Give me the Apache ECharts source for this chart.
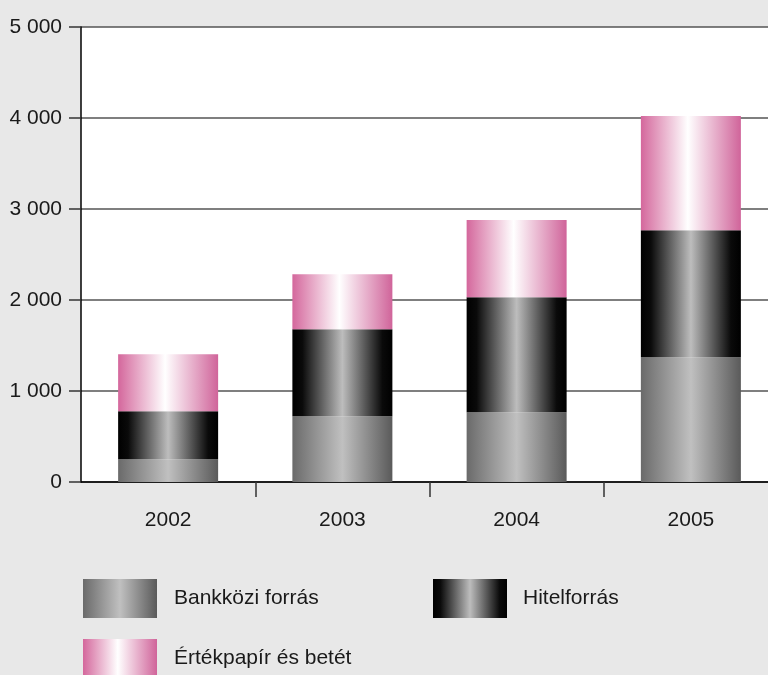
<!DOCTYPE html>
<html>
<head>
<meta charset="utf-8">
<script src="https://cdn.jsdelivr.net/npm/echarts@6/dist/echarts.min.js"></script>
<style>
  html, body { margin: 0; padding: 0; background: #e8e8e8; }
  #chart { width: 768px; height: 675px; }
</style>
</head>
<body>
<div id="chart"></div>
<script>
// Years on the category axis
const years = ['2002', '2003', '2004', '2005'];

// Stacked funding components (values per year)
const bankkozi = [250, 722, 766, 1371];
const hitel = [527, 957, 1265, 1396];
const ertekpapir = [627, 605, 847, 1255];

// Value axis range and step
const yMin = 0;
const yMax = 5000;
const yStep = 1000;

const seriesNames = ['Bankközi forrás', 'Hitelforrás', 'Értékpapír és betét'];

function hGrad(stops) {
  return new echarts.graphic.LinearGradient(0, 0, 1, 0,
    stops.map(s => ({ offset: s[0], color: s[1] })));
}

const grayFill = hGrad([[0, '#6a6a6a'], [0.5, '#c0c0c0'], [1, '#5a5a5a']]);
const blackFill = hGrad([[0, '#000000'], [0.1, '#0a0a0a'], [0.5, '#bdbdbd'], [0.9, '#0a0a0a'], [1, '#000000']]);
const pinkFill = hGrad([[0, '#d4679c'], [0.47, '#ffffff'], [1, '#d0649a']]);

const fmt = v => String(v).replace(/\B(?=(\d{3})+(?!\d))/g, ' ');

const chart = echarts.init(document.getElementById('chart'), null, { renderer: 'canvas' });

function legendText(gap) {
  return { fontFamily: 'Liberation Sans', fontSize: 21, color: '#1a1a1a', padding: [0, 0, 0, gap] };
}
function legendAt(name, left, top, gap) {
  return {
    data: [name], left: left, top: top, padding: 0,
    icon: 'rect', itemWidth: 74, itemHeight: 39,
    textStyle: legendText(gap)
  };
}

chart.setOption({
  backgroundColor: '#e8e8e8',
  animation: false,
  grid: {
    left: 81, top: 27, width: 697, height: 455,
    outerBoundsMode: 'none',
    show: true, backgroundColor: '#ffffff', borderWidth: 0
  },
  legend: [
    legendAt(seriesNames[0], 83, 579, 12),
    legendAt(seriesNames[1], 433, 579, 11),
    legendAt(seriesNames[2], 83, 639, 12)
  ],
  xAxis: {
    type: 'category',
    data: years,
    boundaryGap: true,
    axisLine: { show: true, lineStyle: { color: '#000', width: 1.5 } },
    axisTick: { show: true, length: 15, interval: (i) => i > 0, lineStyle: { color: '#333', width: 1.5 } },
    axisLabel: { margin: 28, fontFamily: 'Liberation Sans', fontSize: 21, color: '#1a1a1a' },
    splitLine: { show: false }
  },
  yAxis: {
    type: 'value',
    min: yMin, max: yMax, interval: yStep,
    axisLine: { show: true, lineStyle: { color: '#000', width: 1.5 } },
    axisTick: { show: true, length: 12, lineStyle: { color: '#333', width: 1.5 } },
    axisLabel: { margin: 19, fontFamily: 'Liberation Sans', fontSize: 21, color: '#1a1a1a', formatter: fmt },
    splitLine: { show: true, lineStyle: { color: '#555', width: 1.5 } }
  },
  series: [
    { name: seriesNames[0], type: 'bar', stack: 'total', data: bankkozi, barWidth: 100, itemStyle: { color: grayFill } },
    { name: seriesNames[1], type: 'bar', stack: 'total', data: hitel, barWidth: 100, itemStyle: { color: blackFill } },
    { name: seriesNames[2], type: 'bar', stack: 'total', data: ertekpapir, barWidth: 100, itemStyle: { color: pinkFill } }
  ]
});
</script>
</body>
</html>
